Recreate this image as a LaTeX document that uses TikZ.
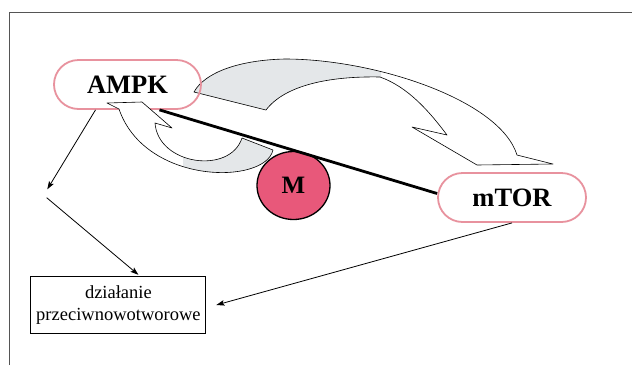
\documentclass[tikz,border=0pt]{standalone}
\usepackage{fontspec}
\setmainfont{Liberation Serif}
\usetikzlibrary{calc,arrows.meta,shapes.geometric}
\definecolor{pillpink}{HTML}{E8929E}
\definecolor{mred}{HTML}{E8587A}
\definecolor{ribbon}{HTML}{E4E7E9}
\definecolor{framegray}{HTML}{555555}
\def\BigArrowPath{(194,92) .. controls (205,72) and (240,60) .. (285,59) .. controls (375,59) and (500,100) .. (517,155) -- (553,164) -- (477,165) -- (412,127) -- (447,135) .. controls (429,111) and (408,87) .. (380,77) .. controls (330,76) and (285,85) .. (266,110) -- cycle}
\def\SmallArrowPath{(107,103) -- (142,102) -- (172,128) -- (155,123) .. controls (158,165) and (230,175) .. (242,138) -- (273,150) .. controls (265,185) and (145,185) .. (119,109) -- cycle}
\begin{document}
\begin{tikzpicture}[x=1pt,y=-1pt,
  pill/.style={draw=pillpink, line width=1.8pt, rounded corners=24.5pt, minimum width=147pt, minimum height=49pt, inner sep=0pt, font=\fontsize{26.5}{30}\selectfont\bfseries},
  thinarrow/.style={draw=black, line width=0.8pt, -{Stealth[length=8pt,width=5.5pt,inset=1.5pt]}},
  ribbonline/.style={draw=black, line width=0.6pt, line join=round}]
\useasboundingbox (0,0) rectangle (632,365);
\fill[white] (0,0) rectangle (632,365);
\draw[framegray, line width=1.3pt] (9.3,365) -- (9.3,12.7) -- (632,12.7);

\begin{scope}
\clip (0,0) rectangle (381,200);
\fill[ribbon] \BigArrowPath;
\end{scope}
\draw[ribbonline] \BigArrowPath;

\node[pill] (AMPK) at (127.5,84.5) {AMPK};
\node[pill, fill=white, minimum width=148pt] (mTOR) at (512,197.5) {mTOR};

\fill[white] \SmallArrowPath;
\begin{scope}
\clip (183,0) rectangle (300,200);
\fill[ribbon] \SmallArrowPath;
\end{scope}
\draw[ribbonline] \SmallArrowPath;

\node[ellipse, draw=black, line width=1.3pt, fill=mred, minimum width=73pt, minimum height=68pt, inner sep=0pt, font=\fontsize{25}{30}\selectfont\bfseries] (M) at (293.5,185.5) {M};

\draw[line width=2.8pt] ($(AMPK.south)+(32,0)$) -- ($(mTOR.west)+(0,-4)$);

\node[draw=black, line width=0.9pt, minimum width=175pt, minimum height=56.5pt, inner sep=0pt, align=center, font=\fontsize{18.5}{22}\selectfont] (box) at (118.4,305) {działanie\\przeciwnowotworowe};

\coordinate (k1) at (47.3,189.3);
\coordinate (k2) at (46.7,197.7);
\coordinate (k3) at ($(box.east)+(10,0)$);
\draw[thinarrow] ($(AMPK.south)+(-32,0)$) -- (k1);
\draw[thinarrow] (k2) -- ($(box.north)+(20,-1.5)$);
\draw[thinarrow] (mTOR.south) -- (k3);
\end{tikzpicture}
\end{document}
